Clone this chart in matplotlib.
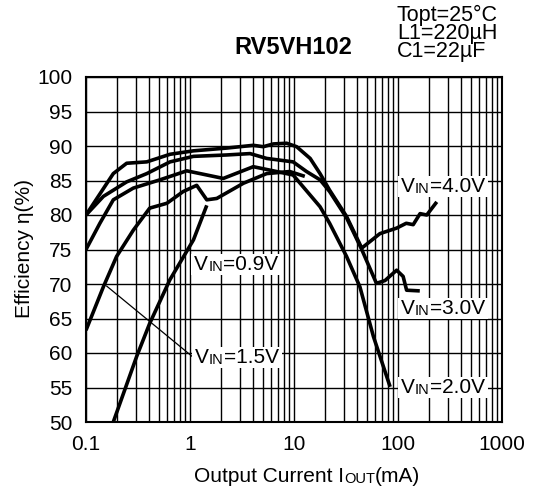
import matplotlib
matplotlib.use('Agg')
import matplotlib.pyplot as plt
from matplotlib.patches import Rectangle
from matplotlib.transforms import Bbox
import numpy as np

plt.rcParams['font.family'] = ['Liberation Sans', 'DejaVu Sans']

# 效率曲线数据 (Iout mA, 效率 %)
i_40 = [0.1, 0.183, 0.246, 0.384, 0.643, 1.08, 2.25, 4.06, 5.07, 6.33, 8.5, 10.6, 14.3, 17.8, 22, 32, 44.8,
        67, 97, 120, 140, 163, 189, 236]
e_40 = [80, 86.0, 87.5, 87.7, 88.8, 89.3, 89.7, 90.1, 89.9, 90.3, 90.4, 89.9, 88.2, 86.0, 83.6, 79.8, 75.2,
        77.3, 78.1, 78.8, 78.6, 80.2, 80.0, 81.9]

i_30 = [0.1, 0.147, 0.246, 0.384, 0.643, 1.08, 2.25, 3.78, 5.46, 9.8, 13.2, 17.8, 22, 32, 44.8, 62, 75,
        97, 112, 121, 162]
e_30 = [80, 82.7, 84.8, 86.0, 87.7, 88.5, 88.7, 88.9, 88.2, 87.7, 86.3, 85.1, 83.4, 79.6, 75.0, 70.1, 70.5,
        72.0, 71.1, 69.1, 69.0]

i_20 = [0.1, 0.136, 0.183, 0.285, 0.515, 0.93, 1.45, 2.09, 4.06, 6.33, 9.8, 17.8, 22, 32, 43, 58, 84]
e_20 = [75, 78.8, 82.2, 83.9, 85.1, 86.4, 85.8, 85.3, 87.0, 86.4, 85.8, 81.2, 78.8, 74.0, 69.6, 62.4, 55.1]

i_15 = [0.1, 0.147, 0.197, 0.285, 0.41, 0.6, 0.86, 1.16, 1.45, 1.81, 3.26, 5.46, 9.1, 12.7]
e_15 = [63.3, 69.6, 74.0, 77.8, 81.0, 81.7, 83.4, 84.3, 82.2, 82.4, 84.6, 86.0, 86.3, 85.6]

i_09 = [0.183, 0.307, 0.41, 0.64, 1.08, 1.45]
e_09 = [50, 59.5, 64.3, 70.6, 76.4, 81.4]

FS = 15

fig = plt.figure(figsize=(5.36, 4.95), dpi=100)
ax = fig.add_axes([86/536, 1-422/495, 416/536, 345/495])

for xs, ys in [(i_40, e_40), (i_30, e_30), (i_20, e_20), (i_15, e_15), (i_09, e_09)]:
    ax.plot(xs, ys, color='black', lw=2.6, zorder=3, solid_capstyle='butt')

ax.set_xscale('log')
ax.set_xlim(0.1, 1000)
ax.set_ylim(50, 100)
ax.set_yticks(np.arange(50, 101, 5))
ax.set_xticks([0.1, 1, 10, 100, 1000])
ax.set_xticklabels(['0.1', '1', '10', '100', '1000'])
ax.xaxis.set_minor_locator(matplotlib.ticker.LogLocator(base=10, subs=np.arange(2, 10)))
ax.xaxis.set_minor_formatter(matplotlib.ticker.NullFormatter())
ax.tick_params(which='both', length=0, labelsize=FS)
ax.tick_params(axis='y', pad=10)
ax.tick_params(axis='x', pad=9)
ax.grid(which='both', color='black', lw=1.0)
ax.set_axisbelow(True)
for s in ax.spines.values():
    s.set_linewidth(1.5)

fig.text(24/536, 1-249/495, 'Efficiency η(%)', fontsize=FS, rotation=90, ha='center', va='center')

fig.text(293/536, 1-48/495, 'RV5VH102', fontsize=17, fontweight='bold', ha='center', va='center')
fig.text(397/536, 1-5/495, 'Topt=25°C\nL1=220µH\nC1=22µF', fontsize=15.5, ha='left', va='top',
         linespacing=0.8)


def sub_label(x, y, head, small, tail, fs=FS):
    # 文字 + 小号 IN
    t1 = ax.text(x, y, head, fontsize=fs, va='center', ha='left', zorder=6)
    t2 = ax.annotate(small, xy=(1, 0), xycoords=t1, va='bottom', ha='left', fontsize=fs*0.7, zorder=6)
    t3 = ax.annotate(tail, xy=(1, 0), xycoords=t2, va='bottom', ha='left', fontsize=fs, zorder=6)
    return [t1, t2, t3]


labels = [
    sub_label(1.1, 72.8, 'V', 'IN', '=0.9V'),
    sub_label(1.12, 59.3, 'V', 'IN', '=1.5V'),
    sub_label(107, 84.2, 'V', 'IN', '=4.0V'),
    sub_label(107, 66.4, 'V', 'IN', '=3.0V'),
    sub_label(107, 55.0, 'V', 'IN', '=2.0V'),
]
ax.plot([0.158, 1.07], [69.7, 59.4], color='black', lw=0.9, zorder=3)

fig.canvas.draw()
r = fig.canvas.get_renderer()
for parts in labels:
    bb = Bbox.union([t.get_window_extent(r) for t in parts])
    rect = Rectangle((bb.x0 - 3, bb.y0 - 1), bb.width + 6, bb.height + 2, transform=None,
                     facecolor='white', edgecolor='none', zorder=5)
    ax.add_patch(rect)

# x 轴标题
mid = fig.text(359.5/536, 1-483/495, 'OUT', fontsize=FS*0.7, ha='center', va='baseline')
fig.canvas.draw()
ax.annotate('Output Current I', xy=(0, 0), xycoords=mid, ha='right', va='bottom', fontsize=FS,
            annotation_clip=False)
ax.annotate('(mA)', xy=(1, 0), xycoords=mid, ha='left', va='bottom', fontsize=FS, annotation_clip=False)

plt.savefig('out.png', dpi=100)
